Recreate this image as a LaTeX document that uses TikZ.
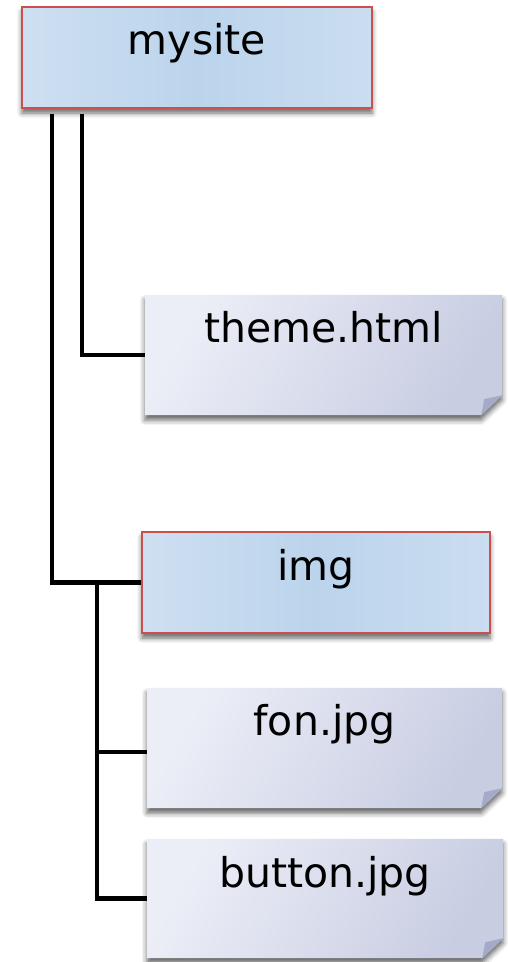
\documentclass[tikz,border=0pt]{standalone}
\usepackage{fontspec}
\setmainfont{DejaVu Sans}
\usetikzlibrary{shadows,shadows.blur,calc}
\pgfdeclarelayer{background}
\pgfsetlayers{background,main}
\definecolor{fldA}{HTML}{CEDFF1}
\definecolor{fldB}{HTML}{BBD4EC}
\definecolor{fldC}{HTML}{CBDDF0}
\definecolor{fldline}{HTML}{C8504D}
\definecolor{fileA}{HTML}{ECEEF7}
\definecolor{fileB}{HTML}{C8CDE2}
\definecolor{foldc}{HTML}{A4AAC8}
\tikzset{
  every node/.style={font=\fontsize{41}{48}\selectfont, inner sep=0pt, text=black},
  folder/.style={draw=fldline, line width=1.6pt, left color=fldA, right color=fldC, middle color=fldB,
     blur shadow={shadow xshift=0pt, shadow yshift=-5pt, shadow blur radius=5pt, shadow opacity=60}},
  filebox/.style={},
  filefill/.style={top color=fileA, bottom color=fileB, shading angle=60,
     blur shadow={shadow xshift=0pt, shadow yshift=-5pt, shadow blur radius=5pt, shadow opacity=60}},
  conn/.style={draw=black, line width=4.2pt},
}
\newcommand{\paperbg}[1]{%
  \begin{pgfonlayer}{background}
  \path[filefill] (#1.north west) -- (#1.north east) -- ([yshift=20pt]#1.south east)
     -- ([xshift=-21pt]#1.south east) -- (#1.south west) -- cycle;
  \fill[foldc] ([yshift=20pt]#1.south east) -- ([xshift=-18pt,yshift=16pt]#1.south east)
     -- ([xshift=-21pt]#1.south east) -- cycle;
  \end{pgfonlayer}}
\begin{document}
\begin{tikzpicture}[x=1pt,y=-1pt]
\useasboundingbox (0,0) rectangle (507,962);
\node[folder, minimum width=350pt, text height=47pt, text depth=54pt] (mysite) at (197,57.5) {mysite};
\node[filebox, minimum width=357pt, text height=47pt, text depth=73pt] (theme) at (323.5,355) {theme.html};
\node[folder, minimum width=348pt, text height=48pt, text depth=53pt] (img) at (316,582.5) {img};
\node[filebox, minimum width=355pt, text height=47pt, text depth=73pt] (fon) at (324.5,748) {fon.jpg};
\node[filebox, minimum width=356pt, text height=48pt, text depth=71pt] (button) at (325,898.5) {button.jpg};
\paperbg{theme}
\paperbg{fon}
\paperbg{button}
\draw[conn] ([xshift=30.5pt,yshift=-5pt]mysite.south west) |- (img.west);
\draw[conn] ([xshift=60.5pt,yshift=-5pt]mysite.south west) |- (theme.west);
\draw[conn] ([xshift=-44pt]img.west) |- ([yshift=-4pt]fon.west);
\draw[conn] ([xshift=-44pt]img.west) |- (button.west);
\end{tikzpicture}
\end{document}
